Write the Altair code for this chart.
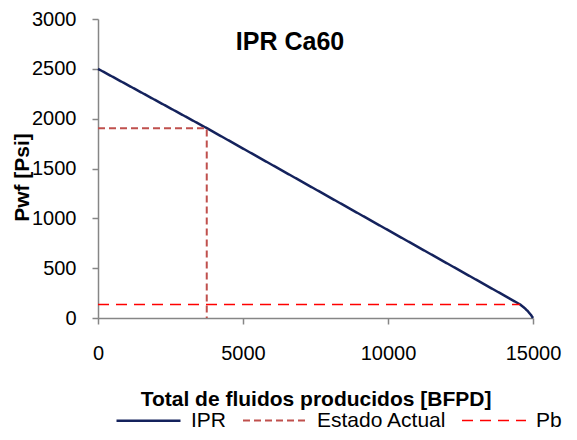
import altair as alt
import pandas as pd

# ---- data ----
ipr_q = [0, 3750, 14550, 14724, 14838, 14931, 15000]
ipr_p = [2500, 1905, 137, 97, 63, 30, 0]

actual_q = [0, 3750, 3750]
actual_p = [1905, 1905, 0]

pb_q = [0, 14550]
pb_p = [135, 135]

series_names = ["IPR", "Estado Actual", "Pb"]
series_colors = ["#14225C", "#C0504D", "#FF0000"]
series_dash = [[1, 0], [7, 4], [11, 7]]
series_width = [2.5, 1.5, 3]

x_ticks = [0, 5000, 10000, 15000]
y_ticks = [0, 500, 1000, 1500, 2000, 2500, 3000]

rows = []
for name, qs, ps in [("IPR", ipr_q, ipr_p), ("Estado Actual", actual_q, actual_p), ("Pb", pb_q, pb_p)]:
    for i, (q, p) in enumerate(zip(qs, ps)):
        rows.append({"series": name, "q": q, "p": p, "ord": i})
df = pd.DataFrame(rows)

FONT = "Liberation Sans"

lines = alt.Chart(df).mark_line().encode(
    x=alt.X("q:Q", scale=alt.Scale(domain=[0, 15000], nice=False),
            axis=alt.Axis(values=x_ticks, format="d", title="Total de fluidos producidos [BFPD]",
                          labelFlush=False, labelPadding=19, tickSize=6,
                          titleY=87, titleBaseline="alphabetic")),
    y=alt.Y("p:Q", scale=alt.Scale(domain=[0, 3000], nice=False),
            axis=alt.Axis(values=y_ticks, format="d", title="Pwf [Psi]", labelFlush=False,
                          labelPadding=16, tickSize=6,
                          titleX=-70, titleY=158, titleBaseline="alphabetic",
                          titleAngle=-90, titleAlign="center")),
    color=alt.Color("series:N", scale=alt.Scale(domain=series_names, range=series_colors),
                    legend=alt.Legend(title=None)),
    strokeDash=alt.StrokeDash("series:N", scale=alt.Scale(domain=series_names, range=series_dash),
                              legend=alt.Legend(title=None)),
    strokeWidth=alt.StrokeWidth("series:N", scale=alt.Scale(domain=series_names, range=series_width),
                                legend=alt.Legend(title=None)),
    detail="series:N",
    order="ord:Q",
)

title = alt.Chart(pd.DataFrame({"t": ["IPR Ca60"]})).mark_text(
    font=FONT, fontSize=25, fontWeight="bold", color="black", baseline="middle", align="center"
).encode(text="t:N", x=alt.value(192), y=alt.value(23))

chart = alt.layer(lines, title).properties(
    width=435, height=299,
    autosize=alt.AutoSizeParams(type="none"),
    padding={"left": 90, "top": 11, "right": 36, "bottom": 114},
).configure_view(stroke=None).configure_axis(
    grid=False,
    domainColor="#868686", domainWidth=1.5,
    tickColor="#868686", tickWidth=1.5,
    labelFont=FONT, labelFontSize=20, labelColor="black",
    titleFont=FONT, titleFontSize=21, titleFontWeight="bold", titleColor="black",
).configure_legend(
    orient="none", legendX=17, legendY=368, direction="horizontal",
    symbolType="stroke", symbolSize=4096, labelFont=FONT, labelFontSize=21,
    labelColor="black", columnPadding=12, labelOffset=9, labelLimit=300,
)

chart.save("out.html", embed_options={"renderer": "svg", "actions": False})
